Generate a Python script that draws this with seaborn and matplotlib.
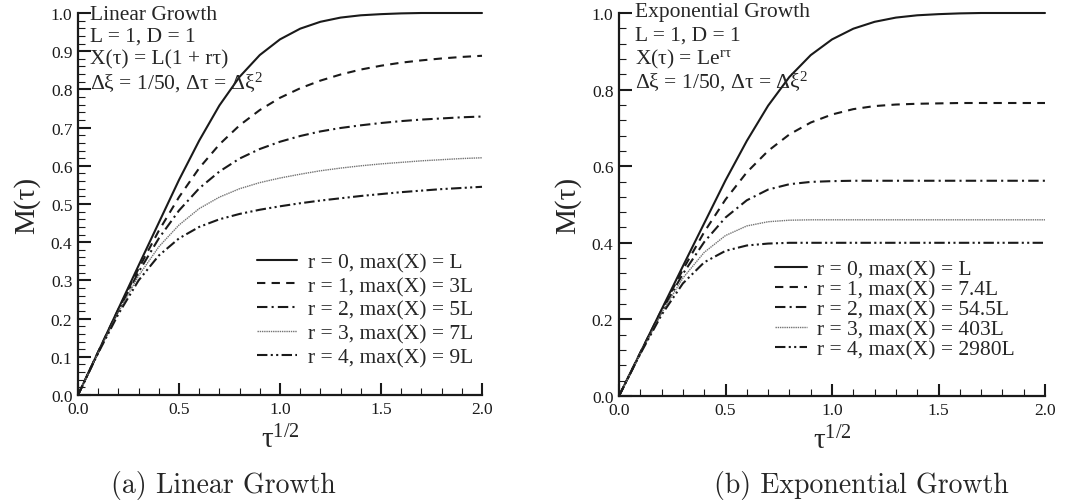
import numpy as np
import pandas as pd
import matplotlib
matplotlib.use("Agg")
import matplotlib.pyplot as plt
from matplotlib.ticker import MultipleLocator, FormatStrFormatter
import seaborn as sns

# sqrt(tau) sample points, every 0.1
t_vals = [0.0, 0.1, 0.2, 0.3, 0.4, 0.5, 0.6, 0.7, 0.8, 0.9, 1.0,
          1.1, 1.2, 1.3, 1.4, 1.5, 1.6, 1.7, 1.8, 1.9, 2.0]

# (a) linear growth
lin_r0 = [0.0, 0.113, 0.226, 0.339, 0.451, 0.563, 0.666, 0.758, 0.833, 0.890, 0.931,
          0.959, 0.977, 0.988, 0.994, 0.997, 0.999, 1.0, 1.0, 1.0, 1.0]
lin_r1 = [0.0, 0.113, 0.224, 0.331, 0.430, 0.518, 0.594, 0.656, 0.706, 0.746, 0.778,
          0.803, 0.823, 0.839, 0.852, 0.862, 0.870, 0.876, 0.881, 0.885, 0.888]
lin_r2 = [0.0, 0.112, 0.221, 0.322, 0.410, 0.483, 0.541, 0.585, 0.619, 0.644, 0.663,
          0.678, 0.690, 0.699, 0.706, 0.712, 0.717, 0.721, 0.724, 0.727, 0.729]
lin_r3 = [0.0, 0.111, 0.217, 0.312, 0.388, 0.445, 0.488, 0.518, 0.540, 0.556, 0.568,
          0.578, 0.587, 0.594, 0.600, 0.605, 0.609, 0.613, 0.616, 0.619, 0.621]
lin_r4 = [0.0, 0.110, 0.212, 0.300, 0.365, 0.410, 0.440, 0.460, 0.474, 0.485, 0.494,
          0.502, 0.509, 0.515, 0.521, 0.526, 0.531, 0.535, 0.539, 0.542, 0.545]

# (b) exponential growth
exp_r0 = lin_r0
exp_r1 = [0.0, 0.113, 0.224, 0.330, 0.428, 0.513, 0.584, 0.640, 0.683, 0.714, 0.735,
          0.749, 0.757, 0.761, 0.763, 0.764, 0.765, 0.765, 0.765, 0.765, 0.765]
exp_r2 = [0.0, 0.112, 0.221, 0.319, 0.402, 0.466, 0.511, 0.539, 0.553, 0.559, 0.561,
          0.562, 0.562, 0.562, 0.562, 0.562, 0.562, 0.562, 0.562, 0.562, 0.562]
exp_r3 = [0.0, 0.111, 0.217, 0.308, 0.375, 0.419, 0.444, 0.455, 0.459, 0.460, 0.460,
          0.460, 0.460, 0.460, 0.460, 0.460, 0.460, 0.460, 0.460, 0.460, 0.460]
exp_r4 = [0.0, 0.110, 0.212, 0.294, 0.349, 0.379, 0.393, 0.398, 0.400, 0.400, 0.400,
          0.400, 0.400, 0.400, 0.400, 0.400, 0.400, 0.400, 0.400, 0.400, 0.400]

lin_labels = ["r = 0, max(X) = L", "r = 1, max(X) = 3L", "r = 2, max(X) = 5L",
              "r = 3, max(X) = 7L", "r = 4, max(X) = 9L"]
exp_labels = ["r = 0, max(X) = L", "r = 1, max(X) = 7.4L", "r = 2, max(X) = 54.5L",
              "r = 3, max(X) = 403L", "r = 4, max(X) = 2980L"]

sns.set_theme(style="ticks")
plt.rcParams["font.family"] = ["Liberation Serif", "DejaVu Serif"]
plt.rcParams["mathtext.fontset"] = "custom"
plt.rcParams["mathtext.rm"] = "Liberation Serif"
plt.rcParams["mathtext.it"] = "Liberation Serif"
plt.rcParams["mathtext.bf"] = "Liberation Serif"

styles = [("k", "-", 1.5),
          ("k", (0, (4, 3)), 1.5),
          ("k", (0, (5, 2, 1, 2)), 1.5),
          ("0.45", (0, (1, 0.6)), 1.0),
          ("k", (0, (5, 1.6, 1, 1.6, 1, 1.6)), 1.5)]

fig = plt.figure(figsize=(10.74, 5.02), dpi=100)
ax1 = fig.add_axes([78/1074, 1-396/502, (482-78)/1074, (396-14)/502])
ax2 = fig.add_axes([619/1074, 1-397/502, (1045-619)/1074, (397-14)/502])


def draw(ax, curves, labels):
    for ys, lab, (c, ls, lw) in zip(curves, labels, styles):
        df = pd.DataFrame({"t": t_vals, "M": ys})
        sns.lineplot(data=df, x="t", y="M", ax=ax, color=c, linestyle=ls,
                     linewidth=lw, label=lab, errorbar=None, clip_on=False)
    ax.set_xlim(0, 2)
    ax.set_ylim(0, 1)
    ax.xaxis.set_major_locator(MultipleLocator(0.5))
    ax.xaxis.set_minor_locator(MultipleLocator(0.1))
    ax.xaxis.set_major_formatter(FormatStrFormatter("%.1f"))
    ax.yaxis.set_major_formatter(FormatStrFormatter("%.1f"))
    ax.tick_params(which="both", direction="in", labelsize=12.5, color="k",
                   labelcolor="k", pad=4)
    ax.tick_params(which="major", length=9, width=1.5)
    ax.tick_params(which="minor", length=5, width=0.8)
    for s in ["left", "bottom"]:
        ax.spines[s].set_linewidth(1.6)
        ax.spines[s].set_color("k")
    sns.despine(ax=ax)
    ax.set_facecolor("white")
    ax.set_ylabel("M(τ)", fontsize=21, labelpad=8)
    ax.set_xlabel("τ$^{1/2}$", fontsize=21, labelpad=6)


draw(ax1, [lin_r0, lin_r1, lin_r2, lin_r3, lin_r4], lin_labels)
draw(ax2, [exp_r0, exp_r1, exp_r2, exp_r3, exp_r4], exp_labels)

ax1.yaxis.set_major_locator(MultipleLocator(0.1))
ax1.yaxis.set_minor_locator(MultipleLocator(0.02))
ax2.yaxis.set_major_locator(MultipleLocator(0.2))
ax2.yaxis.set_minor_locator(MultipleLocator(0.04))

ax1.legend(loc="upper left", bbox_to_anchor=(257/1074, 1-253/502),
           bbox_transform=fig.transFigure, frameon=False, fontsize=15.5,
           handlelength=1.86, handletextpad=0.5, labelspacing=0.18,
           borderpad=0, borderaxespad=0)
ax2.legend(loc="upper left", bbox_to_anchor=(775/1074, 1-260/502),
           bbox_transform=fig.transFigure, frameon=False, fontsize=15.5,
           handlelength=1.5, handletextpad=0.47, labelspacing=0.0,
           borderpad=0, borderaxespad=0)

lin_notes = ["Linear Growth", "L = 1, D = 1", "X(τ) = L(1 + rτ)",
             "Δξ = 1/50, Δτ = Δξ$^2$"]
exp_notes = ["Exponential Growth", "L = 1, D = 1", "X(τ) = Le$^{rτ}$",
             "Δξ = 1/50, Δτ = Δξ$^2$"]
for i, s in enumerate(lin_notes):
    fig.text(90/1074, 1-(15+22.5*i)/502, s, fontsize=15.5, va="center", ha="left")
for i, s in enumerate(exp_notes):
    fig.text(635/1074, 1-(13+23*i)/502, s, fontsize=15.5, va="center", ha="left")

fig.text(223/1074, 1-486/502, "(a) Linear Growth", family="cmr10",
         fontsize=20, ha="center", va="center")
fig.text(861/1074, 1-486/502, "(b) Exponential Growth", family="cmr10",
         fontsize=20, ha="center", va="center")

fig.savefig("out.png", dpi=100, facecolor="white")
